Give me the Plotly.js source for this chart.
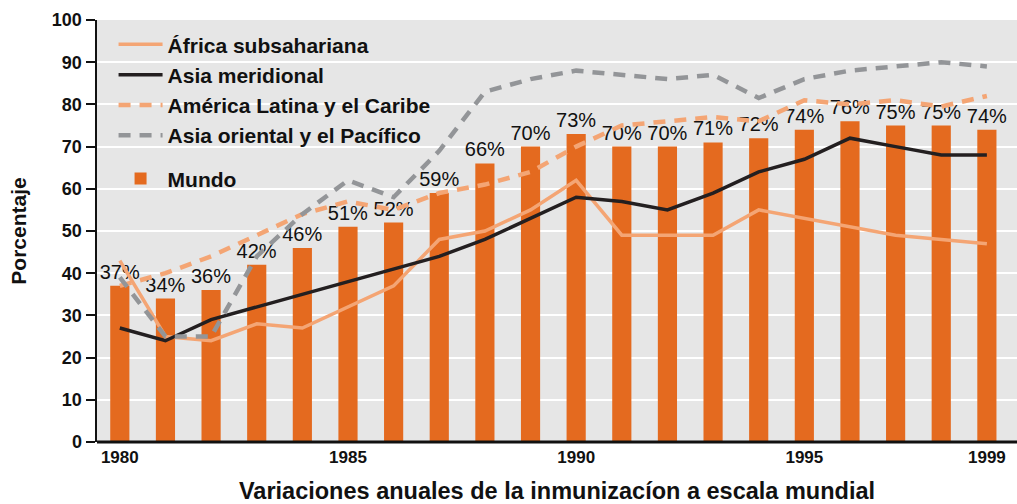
<!DOCTYPE html>
<html>
<head>
<meta charset="utf-8">
<script src="https://cdn.plot.ly/plotly-3.0.1.min.js"></script>
<style>html,body{margin:0;padding:0;background:#fff;}#chart{width:1017px;height:504px;}</style>
</head>
<body>
<div id="chart"></div>
<script>
const years = [1980,1981,1982,1983,1984,1985,1986,1987,1988,1989,1990,1991,1992,1993,1994,1995,1996,1997,1998,1999];
const mundo = [37,34,36,42,46,51,52,59,66,70,73,70,70,71,72,74,76,75,75,74];
const africa = [43,25,24,28,27,32,37,48,50,55,62,49,49,49,55,53,51,49,48,47];
const asiaMeridional = [27,24,29,32,35,38,41,44,48,53,58,57,55,59,64,67,72,70,68,68];
const americaLatina = [37,40,44,49,54,57,55,59,61,64,70,75,76,77,76,81,80,81,79.5,82];
const asiaOriental = [39,25,25,44,54,62,58,69,83,86,88,87,86,87,81.5,86,88,89,90,89];
const xTickVals = [1980,1985,1990,1995,1999];
const xTickText = ['1980','1985','1990','1995','1999'];

const condensed = 'Liberation Sans Narrow, Arial Narrow, Liberation Sans, Arial, sans-serif';
const sans = 'Liberation Sans, Arial, Helvetica, sans-serif';

const traces = [
  {type:'scatter', mode:'lines', name:'África subsahariana', x:years, y:africa,
   line:{color:'#f4a574', width:3.5}, legendgroup:'a'},
  {type:'scatter', mode:'lines', name:'Asia meridional', x:years, y:asiaMeridional,
   line:{color:'#231f20', width:3.5}, legendgroup:'a'},
  {type:'scatter', mode:'lines', name:'América Latina y el Caribe', x:years, y:americaLatina,
   line:{color:'#f4a574', width:4.5, dash:'12px,9px'}, legendgroup:'a'},
  {type:'scatter', mode:'lines', name:'Asia oriental y el Pacífico', x:years, y:asiaOriental,
   line:{color:'#939598', width:4.5, dash:'12px,9px'}, legendgroup:'a'},
  {type:'bar', name:'Mundo', x:years, y:mundo, width:0.42,
   marker:{color:'#e46a1f'}, legendgroup:'b',
   text: mundo.map(v => v + '%'), textposition:'outside', constraintext:'none', cliponaxis:false,
   textfont:{family:sans, size:20, color:'#111'}, hoverinfo:'skip'}
];

const layout = {
  width:1017, height:504,
  margin:{l:97, r:0, t:20, b:62},
  paper_bgcolor:'#ffffff', plot_bgcolor:'#e6e6e6',
  showlegend:true,
  legend:{x:0.018, y:0.99, xanchor:'left', yanchor:'top', bgcolor:'rgba(0,0,0,0)',
    font:{family:sans, size:21, color:'#111', weight:'bold'}, traceorder:'grouped', tracegroupgap:13,
    itemwidth:44},
  xaxis:{range:[1979.5,1999.66], tickvals:xTickVals, ticktext:xTickText,
    showgrid:false, zeroline:false, showline:false, ticks:'outside', ticklen:0,
    tickfont:{family:condensed, size:17, color:'#111', weight:'bold'},
    title:{text:'Variaciones anuales de la inmunizacíon a escala mundial', standoff:19,
      font:{family:sans, size:23.5, color:'#111', weight:'bold'}}},
  yaxis:{range:[0,100], dtick:10, showgrid:true, gridcolor:'#ffffff', gridwidth:2,
    zeroline:false, showline:true, linecolor:'#111', linewidth:2.5, mirror:false,
    ticks:'outside', ticklen:9, tickwidth:2, tickcolor:'#111',
    tickfont:{family:condensed, size:18, color:'#111', weight:'bold'},
    title:{text:'Porcentaje', standoff:20, font:{family:sans, size:21, color:'#111', weight:'bold'}}},
  shapes:[
    {type:'line', xref:'paper', yref:'paper', x0:0, x1:1, y0:0, y1:0, line:{color:'#111', width:3}}
  ],
  bargap:0.5
};

Plotly.newPlot('chart', traces, layout, {displayModeBar:false, staticPlot:true});
</script>
</body>
</html>
